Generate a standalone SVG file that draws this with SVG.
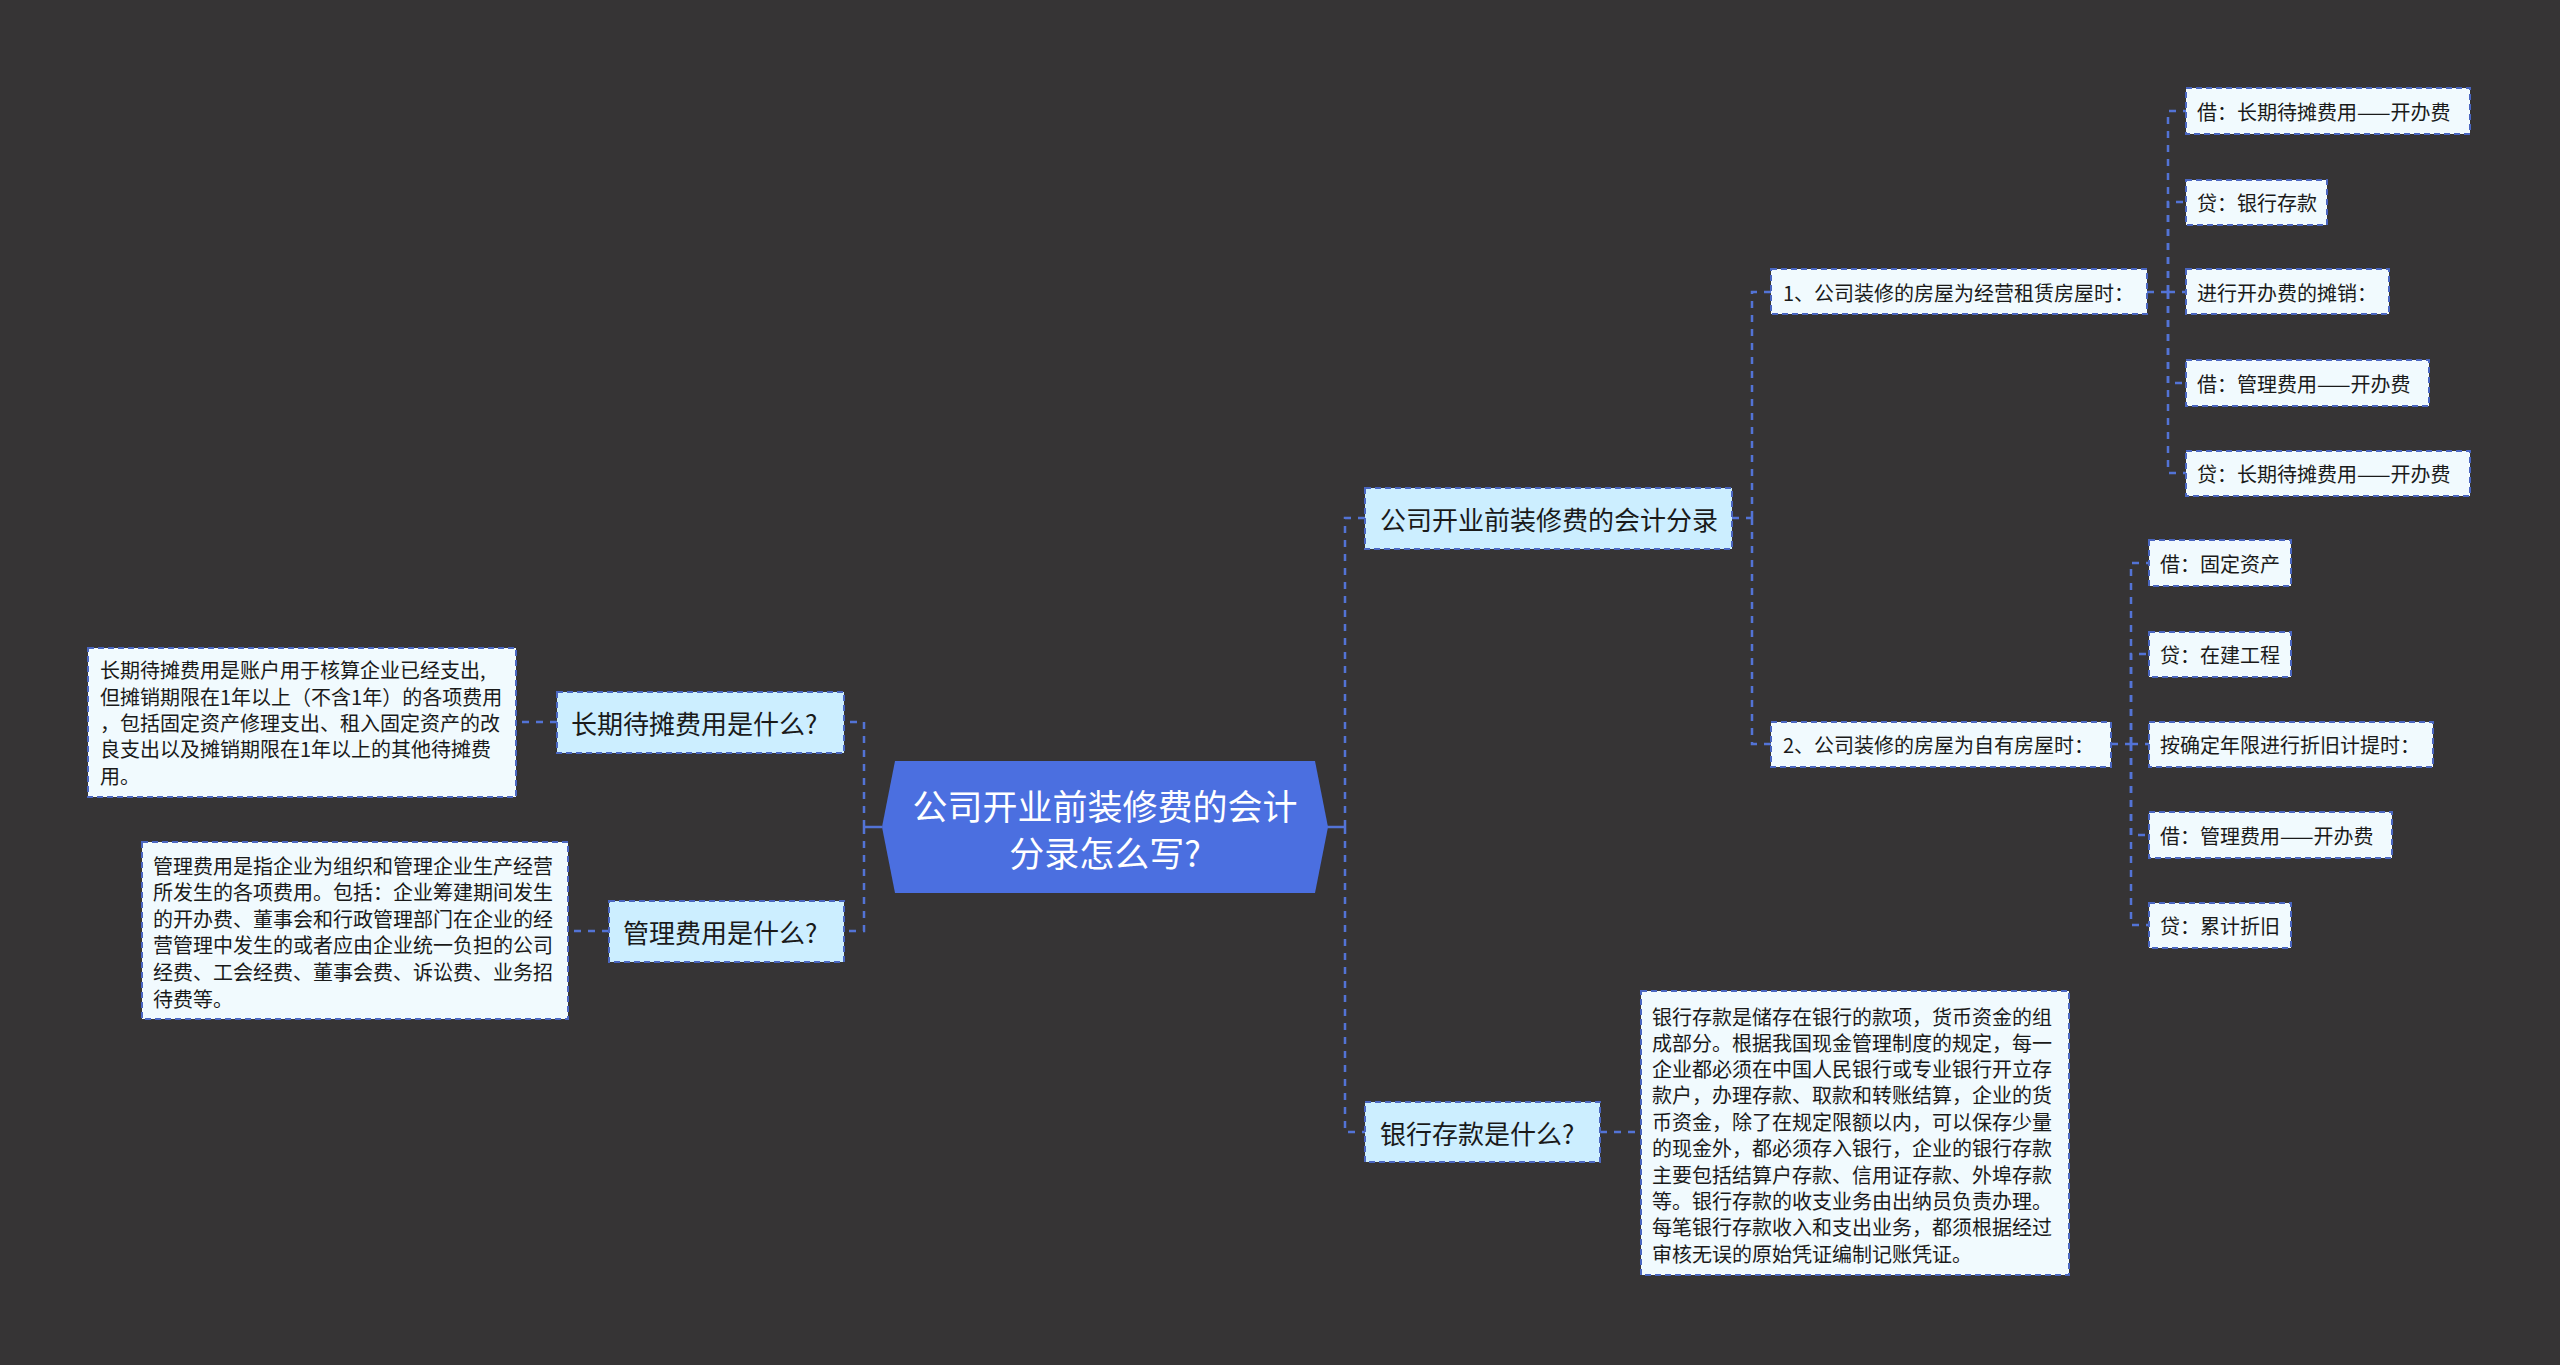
<svg xmlns="http://www.w3.org/2000/svg" width="2560" height="1365" viewBox="0 0 2560 1365">
<style>
text{font-family:"Noto Sans CJK SC","Noto Sans",sans-serif;fill:#1a1a1a;dominant-baseline:central}
.l1 rect{fill:#CCEEFF;stroke:#4A66C0;stroke-width:2;stroke-dasharray:6 4}
.l1 text{font-size:26px}
.lf rect{fill:#F1FAFE;stroke:#4A66C0;stroke-width:2;stroke-dasharray:6 4}
.lf text{font-size:20px}
.conn path{fill:none;stroke:#5373D6;stroke-width:2.5;stroke-dasharray:7 7}
.conn .solid{stroke-dasharray:none}
</style>
<rect width="2560" height="1365" fill="#363435"/>
<g id="connectors" class="conn">
<path class="solid" d="M882,827 H864"/>
<path d="M864,827 V722 H844"/>
<path d="M864,827 V931 H844"/>
<path d="M557,722 H516"/>
<path d="M609,931 H568"/>
<path class="solid" d="M1327,827 H1345"/>
<path d="M1345,827 V518 H1365"/>
<path d="M1345,827 V1132 H1365"/>
<path d="M1600,1132 H1641"/>
<path d="M1732,518 H1752"/>
<path d="M1752,518 V292 H1771"/>
<path d="M1752,518 V744 H1771"/>
<path d="M2147,292 H2168"/>
<path d="M2168,292 V111 H2186"/>
<path d="M2168,292 V202 H2186"/>
<path d="M2168,292 H2186"/>
<path d="M2168,292 V383 H2186"/>
<path d="M2168,292 V473 H2186"/>
<path d="M2111,744 H2131"/>
<path d="M2131,744 V563 H2149"/>
<path d="M2131,744 V654 H2149"/>
<path d="M2131,744 H2149"/>
<path d="M2131,744 V835 H2149"/>
<path d="M2131,744 V925 H2149"/>
</g>
<g id="root">
<polygon points="882,827 895,761 1315,761 1328,827 1315,893 895,893" fill="#4B6FE0"/>
<text x="1105" y="804" text-anchor="middle" style="font-size:35px;fill:#ffffff">公司开业前装修费的会计</text>
<text x="1105" y="851" text-anchor="middle" style="font-size:35px;fill:#ffffff">分录怎么写?</text>
</g>
<g id="n-changqi" class="l1"><rect x="557" y="692" width="287" height="61"/><text x="571" y="722">长期待摊费用是什么?</text></g>
<g id="n-guanli" class="l1"><rect x="609" y="901" width="235" height="61"/><text x="623" y="931">管理费用是什么?</text></g>
<g id="n-fenlu" class="l1"><rect x="1365" y="488" width="367" height="61"/><text x="1380" y="518">公司开业前装修费的会计分录</text></g>
<g id="n-yinhang" class="l1"><rect x="1365" y="1102" width="235" height="60"/><text x="1380" y="1132">银行存款是什么?</text></g>
<g id="d-changqi" class="lf"><rect x="88" y="648" width="428" height="149"/>
<text x="100" y="669">长期待摊费用是账户用于核算企业已经支出,</text>
<text x="100" y="696">但摊销期限在1年以上（不含1年）的各项费用</text>
<text x="100" y="722">，包括固定资产修理支出、租入固定资产的改</text>
<text x="100" y="748">良支出以及摊销期限在1年以上的其他待摊费</text>
<text x="100" y="775">用。</text></g>
<g id="d-guanli" class="lf"><rect x="142" y="842" width="426" height="177"/>
<text x="153" y="865">管理费用是指企业为组织和管理企业生产经营</text>
<text x="153" y="891">所发生的各项费用。包括：企业筹建期间发生</text>
<text x="153" y="918">的开办费、董事会和行政管理部门在企业的经</text>
<text x="153" y="944">营管理中发生的或者应由企业统一负担的公司</text>
<text x="153" y="971">经费、工会经费、董事会费、诉讼费、业务招</text>
<text x="153" y="998">待费等。</text></g>
<g id="d-yinhang" class="lf"><rect x="1641" y="991" width="428" height="284"/>
<text x="1652" y="1016">银行存款是储存在银行的款项，货币资金的组</text>
<text x="1652" y="1042">成部分。根据我国现金管理制度的规定，每一</text>
<text x="1652" y="1068">企业都必须在中国人民银行或专业银行开立存</text>
<text x="1652" y="1094">款户，办理存款、取款和转账结算，企业的货</text>
<text x="1652" y="1121">币资金，除了在规定限额以内，可以保存少量</text>
<text x="1652" y="1147">的现金外，都必须存入银行，企业的银行存款</text>
<text x="1652" y="1174">主要包括结算户存款、信用证存款、外埠存款</text>
<text x="1652" y="1200">等。银行存款的收支业务由出纳员负责办理。</text>
<text x="1652" y="1226">每笔银行存款收入和支出业务，都须根据经过</text>
<text x="1652" y="1253">审核无误的原始凭证编制记账凭证。</text></g>
<g id="n-case1" class="lf"><rect x="1771" y="269" width="376" height="45"/><text x="1783" y="292">1、公司装修的房屋为经营租赁房屋时：</text></g>
<g id="n-case2" class="lf"><rect x="1771" y="722" width="340" height="45"/><text x="1783" y="744">2、公司装修的房屋为自有房屋时：</text></g>
<g id="n-a1" class="lf"><rect x="2186" y="88" width="284" height="46"/><text x="2197" y="111">借：长期待摊费用——开办费</text></g>
<g id="n-a2" class="lf"><rect x="2186" y="180" width="141" height="45"/><text x="2197" y="202">贷：银行存款</text></g>
<g id="n-a3" class="lf"><rect x="2186" y="269" width="203" height="45"/><text x="2197" y="292">进行开办费的摊销：</text></g>
<g id="n-a4" class="lf"><rect x="2186" y="360" width="243" height="46"/><text x="2197" y="383">借：管理费用——开办费</text></g>
<g id="n-a5" class="lf"><rect x="2186" y="451" width="284" height="45"/><text x="2197" y="473">贷：长期待摊费用——开办费</text></g>
<g id="n-b1" class="lf"><rect x="2149" y="540" width="142" height="46"/><text x="2160" y="563">借：固定资产</text></g>
<g id="n-b2" class="lf"><rect x="2149" y="632" width="142" height="45"/><text x="2160" y="654">贷：在建工程</text></g>
<g id="n-b3" class="lf"><rect x="2149" y="722" width="284" height="45"/><text x="2160" y="744">按确定年限进行折旧计提时：</text></g>
<g id="n-b4" class="lf"><rect x="2149" y="812" width="243" height="46"/><text x="2160" y="835">借：管理费用——开办费</text></g>
<g id="n-b5" class="lf"><rect x="2149" y="903" width="142" height="45"/><text x="2160" y="925">贷：累计折旧</text></g>
</svg>
